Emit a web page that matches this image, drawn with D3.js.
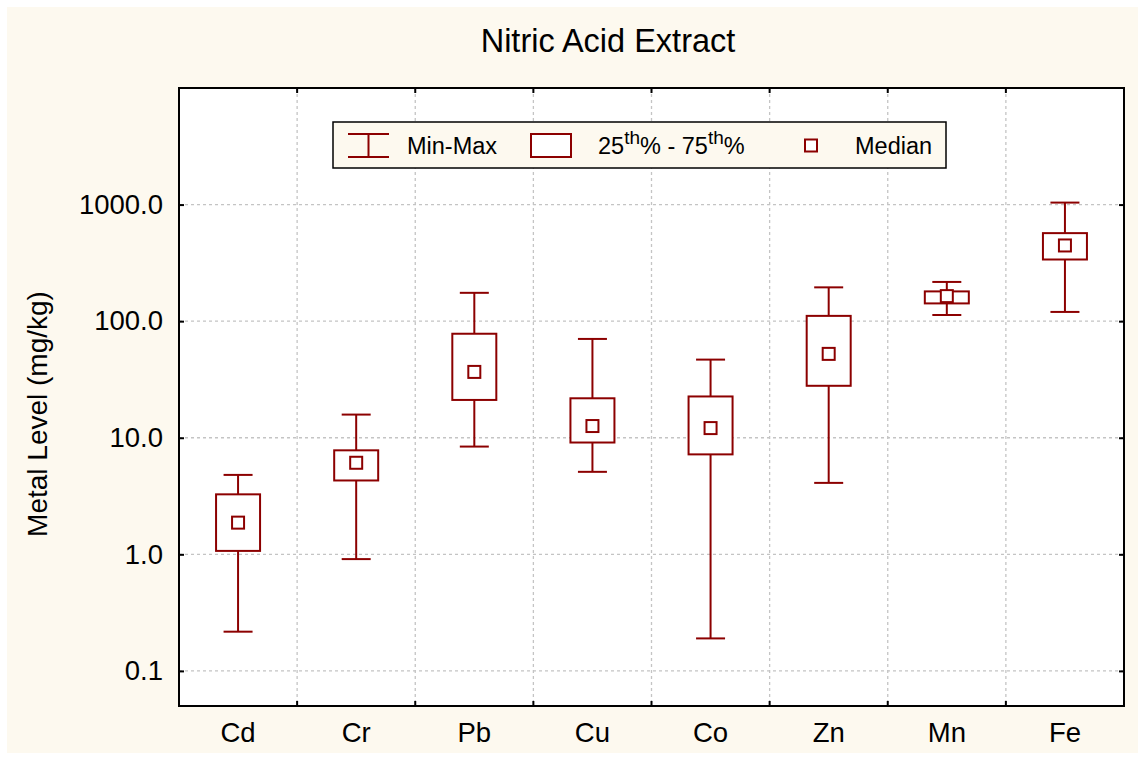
<!DOCTYPE html>
<html>
<head>
<meta charset="utf-8">
<script src="https://cdn.jsdelivr.net/npm/d3@7/dist/d3.min.js"></script>
<style>
  html, body { margin: 0; padding: 0; background: #ffffff; }
  svg { display: block; font-family: Arial, "Liberation Sans", sans-serif; }
</style>
</head>
<body>
<svg id="chart" width="1145" height="760"></svg>
<script>
// Metal concentrations (mg/kg) in the nitric acid extract
const categories = ["Cd", "Cr", "Pb", "Cu", "Co", "Zn", "Mn", "Fe"];
const minVals    = [0.217, 0.91, 8.4, 5.1, 0.19, 4.1, 113, 120];
const q1Vals     = [1.07, 4.3, 21.1, 9.1, 7.2, 27.9, 142, 338];
const medianVals = [1.87, 6.1, 36.7, 12.6, 12.1, 52.4, 164, 446];
const q3Vals     = [3.27, 7.8, 78, 21.8, 22.6, 111, 180, 569];
const maxVals    = [4.8, 15.8, 175, 70.4, 46.8, 195, 217, 1040];
const yTickValues = [0.1, 1, 10, 100, 1000];

const rows = categories.map((c, i) => ({
  cat: c, min: minVals[i], q1: q1Vals[i], med: medianVals[i], q3: q3Vals[i], max: maxVals[i]
}));

const svg = d3.select("#chart");
const W = 1145, H = 760;
const plot = { left: 179, top: 88, right: 1124, bottom: 706 };
const boxColor = "#8c0000";
const cream = "#fdf9ef";
const fontFam = "Arial, 'Liberation Sans', sans-serif";

// page background
svg.append("rect").attr("width", W).attr("height", H).attr("fill", "#ffffff");
svg.append("rect").attr("x", 7).attr("y", 7).attr("width", 1131).attr("height", 746).attr("fill", cream);

const x = d3.scaleBand().domain(categories).range([plot.left, plot.right]);
const y = d3.scaleLog().domain([0.05, 10000]).range([plot.bottom, plot.top]);

// plot area
svg.append("rect")
  .attr("x", plot.left).attr("y", plot.top)
  .attr("width", plot.right - plot.left).attr("height", plot.bottom - plot.top)
  .attr("fill", "#ffffff");

// grid
const grid = svg.append("g").attr("stroke", "#c4c4c4").attr("stroke-width", 1.3)
  .attr("stroke-dasharray", "3,3");
grid.selectAll("line.h").data(yTickValues).join("line")
  .attr("x1", plot.left).attr("x2", plot.right)
  .attr("y1", d => y(d)).attr("y2", d => y(d));
const bounds = categories.slice(1).map(c => x(c));
grid.selectAll("line.v").data(bounds).join("line")
  .attr("x1", d => d).attr("x2", d => d)
  .attr("y1", plot.top).attr("y2", plot.bottom);

// axes
const yAxis = svg.append("g")
  .attr("transform", `translate(${plot.left},0)`)
  .call(d3.axisLeft(y).tickValues(yTickValues).tickFormat(d3.format(".1f"))
    .tickSize(-5).tickPadding(16));
yAxis.select(".domain").remove();
yAxis.selectAll("text").attr("font-size", 27.5).attr("fill", "#000").attr("font-family", fontFam);
yAxis.selectAll("line").attr("stroke", "#000").attr("stroke-width", 2);

const yAxisR = svg.append("g")
  .attr("transform", `translate(${plot.right},0)`)
  .call(d3.axisRight(y).tickValues(yTickValues).tickFormat("").tickSize(-5));
yAxisR.select(".domain").remove();
yAxisR.selectAll("line").attr("stroke", "#000").attr("stroke-width", 2);

const xAxis = svg.append("g")
  .attr("transform", `translate(0,${plot.bottom})`)
  .call(d3.axisBottom(x).tickSize(0).tickPadding(16));
xAxis.select(".domain").remove();
xAxis.selectAll("text").attr("font-size", 27.5).attr("fill", "#000").attr("font-family", fontFam);

// boundary ticks on top and bottom edges
const edgeTicks = svg.append("g").attr("stroke", "#000").attr("stroke-width", 2);
edgeTicks.selectAll("line.b").data(bounds).join("line")
  .attr("x1", d => d).attr("x2", d => d).attr("y1", plot.bottom).attr("y2", plot.bottom - 5);
edgeTicks.selectAll("line.t").data(bounds).join("line")
  .attr("x1", d => d).attr("x2", d => d).attr("y1", plot.top).attr("y2", plot.top + 5);

// plot frame
svg.append("rect")
  .attr("x", plot.left).attr("y", plot.top)
  .attr("width", plot.right - plot.left).attr("height", plot.bottom - plot.top)
  .attr("fill", "none").attr("stroke", "#000").attr("stroke-width", 2);

// box plots
const boxW = 44, capW = 29, medS = 12;
const boxes = svg.append("g").attr("stroke", boxColor).attr("stroke-width", 2).attr("fill", "none");
const g = boxes.selectAll("g.box").data(rows).join("g")
  .attr("transform", d => `translate(${x(d.cat) + x.bandwidth() / 2},0)`);
g.append("line").attr("x1", 0).attr("x2", 0).attr("y1", d => y(d.max)).attr("y2", d => y(d.q3));
g.append("line").attr("x1", 0).attr("x2", 0).attr("y1", d => y(d.q1)).attr("y2", d => y(d.min));
g.append("line").attr("x1", -capW / 2).attr("x2", capW / 2).attr("y1", d => y(d.max)).attr("y2", d => y(d.max));
g.append("line").attr("x1", -capW / 2).attr("x2", capW / 2).attr("y1", d => y(d.min)).attr("y2", d => y(d.min));
g.append("rect").attr("x", -boxW / 2).attr("width", boxW)
  .attr("y", d => y(d.q3)).attr("height", d => y(d.q1) - y(d.q3)).attr("fill", "#ffffff");
g.append("rect").attr("x", -medS / 2).attr("width", medS)
  .attr("y", d => y(d.med) - medS / 2).attr("height", medS).attr("fill", "#ffffff");

// legend
const leg = svg.append("g");
leg.append("rect").attr("x", 333).attr("y", 122).attr("width", 613).attr("height", 46)
  .attr("fill", cream).attr("stroke", "#000").attr("stroke-width", 1.5);
const li = leg.append("g").attr("stroke", boxColor).attr("stroke-width", 2).attr("fill", "none");
li.append("line").attr("x1", 348).attr("x2", 389).attr("y1", 134).attr("y2", 134);
li.append("line").attr("x1", 348).attr("x2", 389).attr("y1", 157).attr("y2", 157);
li.append("line").attr("x1", 368.5).attr("x2", 368.5).attr("y1", 134).attr("y2", 157);
li.append("rect").attr("x", 531).attr("y", 134).attr("width", 40).attr("height", 23).attr("fill", "#ffffff");
li.append("rect").attr("x", 805).attr("y", 139.5).attr("width", 12).attr("height", 12).attr("fill", "#ffffff");
const legText = leg.append("g").attr("font-size", 23.5).attr("fill", "#000");
legText.append("text").attr("x", 407).attr("y", 154).text("Min-Max");
const pct = legText.append("text").attr("x", 598).attr("y", 154);
pct.append("tspan").text("25");
pct.append("tspan").attr("font-size", 19).attr("dy", -10).text("th");
pct.append("tspan").attr("dy", 10).text("% - 75");
pct.append("tspan").attr("font-size", 19).attr("dy", -10).text("th");
pct.append("tspan").attr("dy", 10).text("%");
legText.append("text").attr("x", 855).attr("y", 154).text("Median");

// title and axis label
svg.append("text").attr("x", 608).attr("y", 52).attr("text-anchor", "middle")
  .attr("font-size", 32.5).attr("fill", "#000").text("Nitric Acid Extract");
svg.append("text")
  .attr("transform", "translate(47,414) rotate(-90)")
  .attr("text-anchor", "middle").attr("font-size", 28).attr("fill", "#000")
  .text("Metal Level (mg/kg)");
</script>
</body>
</html>
